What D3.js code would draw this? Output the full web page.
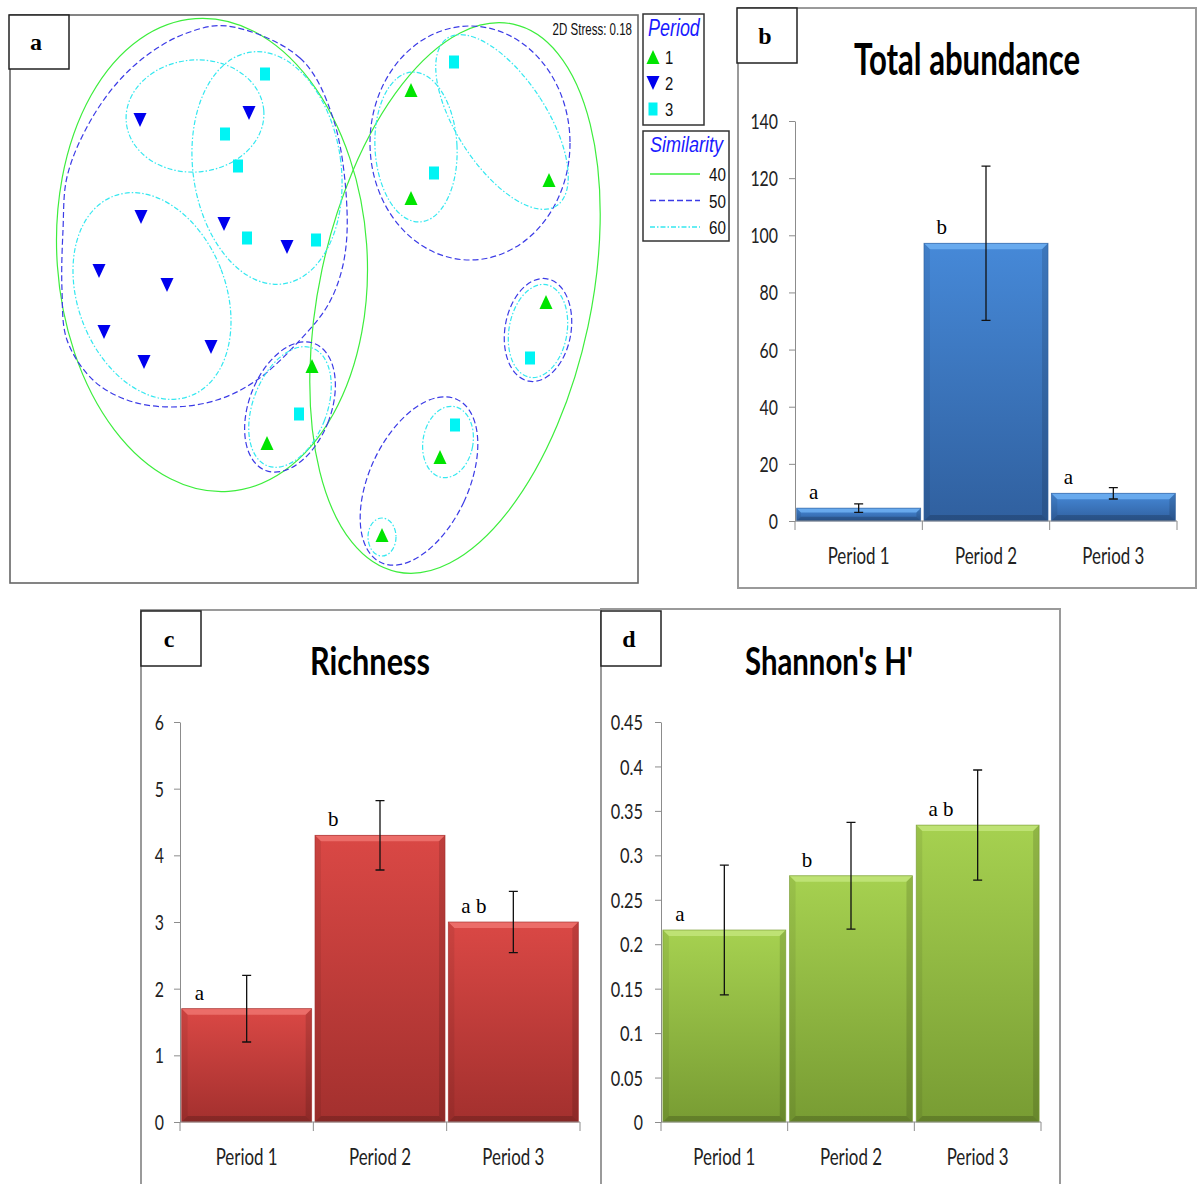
<!DOCTYPE html>
<html><head><meta charset="utf-8">
<script src="https://cdn.jsdelivr.net/npm/d3@7"></script>
<style>body{margin:0;background:#fff}svg{display:block}</style>
</head><body>
<svg id="fig" width="1197" height="1184"></svg>
<script>
// ================= DATA =================
const periods = ["Period 1", "Period 2", "Period 3"];

const abundanceMean = [4.5, 97.2, 9.7];
const abundanceErr = [1.5, 27.0, 2.0];
const abundanceLetters = ["a", "b", "a"];
const abundanceTicks = [0, 20, 40, 60, 80, 100, 120, 140];
const abundanceTickLabels = ["0", "20", "40", "60", "80", "100", "120", "140"];

const richnessMean = [1.7, 4.3, 3.0];
const richnessErr = [0.5, 0.52, 0.46];
const richnessLetters = ["a", "b", "a b"];
const richnessTicks = [0, 1, 2, 3, 4, 5, 6];
const richnessTickLabels = ["0", "1", "2", "3", "4", "5", "6"];

const shannonMean = [0.216, 0.277, 0.334];
const shannonErr = [0.073, 0.060, 0.062];
const shannonLetters = ["a", "b", "a b"];
const shannonTicks = [0, 0.05, 0.1, 0.15, 0.2, 0.25, 0.3, 0.35, 0.4, 0.45];
const shannonTickLabels = ["0", "0.05", "0.1", "0.15", "0.2", "0.25", "0.3", "0.35", "0.4", "0.45"];

// NMDS ordination (MDS1, MDS2)
const mdsPeriod1 = [[0.435, 1.045], [0.435, 0.505], [1.125, 0.595], [-0.06, -0.335], [-0.285, -0.72], [1.11, -0.015], [0.58, -0.79], [0.29, -1.18]];
const mdsPeriod2 = [[-0.92, 0.895], [-0.375, 0.93], [-0.915, 0.41], [-0.5, 0.375], [-0.185, 0.26], [-1.125, 0.14], [-0.785, 0.07], [-1.1, -0.165], [-0.9, -0.315], [-0.565, -0.24]];
const mdsPeriod3 = [[-0.295, 1.125], [-0.495, 0.825], [-0.43, 0.665], [-0.385, 0.305], [-0.04, 0.295], [-0.125, -0.575], [0.65, 1.185], [0.55, 0.63], [1.03, -0.295], [0.655, -0.63]];
const periodNames = ["1", "2", "3"];
const similarityLevels = ["40", "50", "60"];
const stressValue = 0.18;

// cluster contours: [cx, cy, rx, ry, rotation]
const contours40 = [[-0.56, 0.22, 0.775, 1.185, -4], [0.655, 0.005, 0.68, 1.40, 12]];
const contours50 = [[-0.17, -0.54, 0.205, 0.34, 21], [0.73, 0.78, 0.50, 0.585, 0], [1.07, -0.155, 0.165, 0.26, 10], [0.475, -0.91, 0.2475, 0.45, 25]];
const contour50Outline = [[-0.485, 1.365], [-0.12, 1.205], [0.045, 0.905], [0.115, 0.445], [0.095, 0.17], [0.02, -0.03], [-0.12, -0.205], [-0.335, -0.405], [-0.535, -0.505], [-0.77, -0.54], [-0.985, -0.505], [-1.155, -0.405], [-1.285, -0.205], [-1.31, 0.045], [-1.305, 0.345], [-1.285, 0.61], [-1.185, 0.86], [-1.035, 1.08], [-0.87, 1.23], [-0.685, 1.33]];
const contours60 = [[-0.645, 0.915, 0.345, 0.28, -5], [-0.285, 0.655, 0.37, 0.585, -8], [-0.86, 0.015, 0.37, 0.535, -21], [-0.17, -0.54, 0.185, 0.315, 21], [0.46, 0.76, 0.205, 0.375, -3], [0.89, 0.885, 0.225, 0.50, -33], [1.07, -0.16, 0.145, 0.235, 10], [0.62, -0.715, 0.125, 0.18, 10], [0.29, -1.19, 0.07, 0.095, 0]];

// ================= DRAWING =================
const svg = d3.select("#fig");
const defs = svg.append("defs");
const SANS = "'Liberation Sans', Arial, sans-serif";
const CAL = "Lato, 'Open Sans', sans-serif";
const SERIF = "'Liberation Serif', 'Times New Roman', serif";

function charW(s, dw) { let w = 0; for (const c of s) w += (c === ".") ? dw * 0.5 : dw; return w; }
// horizontally condensed text via transform
function sText(g, x, y, str, sx, size, anchor) {
  return g.append("text").attr("transform", `translate(${x},${y}) scale(${sx},1)`)
    .attr("text-anchor", anchor || "start").attr("font-family", SANS).attr("font-size", size).text(str);
}

// ---------- Panel a : NMDS ----------
const pa = svg.append("g");
const ax = d3.scaleLinear().domain([-1.57, 1.57]).range([10, 638]);
const ay = d3.scaleLinear().domain([-1.42, 1.42]).range([583, 15]);
pa.append("rect").attr("x", 10).attr("y", 15).attr("width", 628).attr("height", 568)
  .attr("fill", "#fff").attr("stroke", "#666").attr("stroke-width", 1.6);

const lvlStyle = {
  "40": { stroke: "#3ded3d", dash: null, w: 1.2 },
  "50": { stroke: "#3b3be6", dash: "6,3", w: 1.2 },
  "60": { stroke: "#35e8f0", dash: "5,2,1.5,2", w: 1.2 }
};
function drawEllipses(list, lvl) {
  const st = lvlStyle[lvl];
  pa.selectAll(null).data(list).enter().append("ellipse")
    .attr("cx", d => ax(d[0])).attr("cy", d => ay(d[1]))
    .attr("rx", d => ax(d[0] + d[2]) - ax(d[0]))
    .attr("ry", d => ay(d[1]) - ay(d[1] + d[3]))
    .attr("transform", d => `rotate(${d[4]},${ax(d[0])},${ay(d[1])})`)
    .attr("fill", "none").attr("stroke", st.stroke).attr("stroke-width", st.w)
    .attr("stroke-dasharray", st.dash);
}
drawEllipses(contours40, "40");
drawEllipses(contours50, "50");
pa.append("path")
  .attr("d", d3.line().x(d => ax(d[0])).y(d => ay(d[1])).curve(d3.curveCatmullRomClosed)(contour50Outline))
  .attr("fill", "none").attr("stroke", lvlStyle["50"].stroke).attr("stroke-width", 1.2)
  .attr("stroke-dasharray", lvlStyle["50"].dash);
drawEllipses(contours60, "60");

const GREEN = "#00e400", BLUE = "#0000ee", CYAN = "#00f4f4";
function upTri(x, y) { return `M${x},${y - 7}L${x + 6.5},${y + 7}L${x - 6.5},${y + 7}Z`; }
function downTri(x, y) { return `M${x - 6.5},${y - 7}L${x + 6.5},${y - 7}L${x},${y + 7}Z`; }
pa.selectAll(null).data(mdsPeriod1).enter().append("path")
  .attr("d", d => upTri(ax(d[0]), ay(d[1]))).attr("fill", GREEN);
pa.selectAll(null).data(mdsPeriod2).enter().append("path")
  .attr("d", d => downTri(ax(d[0]), ay(d[1]))).attr("fill", BLUE);
pa.selectAll(null).data(mdsPeriod3).enter().append("rect")
  .attr("x", d => ax(d[0]) - 5).attr("y", d => ay(d[1]) - 6.5)
  .attr("width", 10).attr("height", 13).attr("fill", CYAN);

sText(pa, 632, 35, "2D Stress: " + stressValue.toFixed(2), 0.72, 16, "end").attr("fill", "#111");

// label box a
pa.append("rect").attr("x", 9).attr("y", 15).attr("width", 60).attr("height", 54)
  .attr("fill", "#fff").attr("stroke", "#222").attr("stroke-width", 1.5);
pa.append("text").attr("x", 36).attr("y", 50).attr("text-anchor", "middle")
  .attr("font-family", SERIF).attr("font-weight", "bold").attr("font-size", 24).text("a");

// legends
const lg = svg.append("g");
lg.append("rect").attr("x", 643).attr("y", 14).attr("width", 61).attr("height", 111)
  .attr("fill", "#fff").attr("stroke", "#333").attr("stroke-width", 1.5);
sText(lg, 648, 36, "Period", 0.78, 23).attr("font-style", "italic").attr("fill", "#1a1aff");
const symFns = [
  (g, x, y) => g.append("path").attr("d", upTri(x, y)).attr("fill", GREEN),
  (g, x, y) => g.append("path").attr("d", downTri(x, y)).attr("fill", BLUE),
  (g, x, y) => g.append("rect").attr("x", x - 4.5).attr("y", y - 6.5).attr("width", 9).attr("height", 13).attr("fill", CYAN)
];
periodNames.forEach((p, i) => {
  const yy = 57 + i * 26;
  symFns[i](lg, 653, yy);
  sText(lg, 665, yy + 7, p, 0.78, 19).attr("fill", "#111");
});
lg.append("rect").attr("x", 643).attr("y", 131).attr("width", 86).attr("height", 110)
  .attr("fill", "#fff").attr("stroke", "#333").attr("stroke-width", 1.5);
sText(lg, 650, 152, "Similarity", 0.82, 22).attr("font-style", "italic").attr("fill", "#1a1aff");
similarityLevels.forEach((l, i) => {
  const yy = 174 + i * 26.5;
  const st = lvlStyle[l];
  lg.append("line").attr("x1", 650).attr("x2", 700).attr("y1", yy).attr("y2", yy)
    .attr("stroke", st.stroke).attr("stroke-width", 1.3).attr("stroke-dasharray", st.dash);
  sText(lg, 726, yy + 7, l, 0.8, 19, "end").attr("fill", "#111");
});

// ---------- Bar panels ----------
function barPanel(c) {
  const g = svg.append("g");
  g.append("rect").attr("x", c.box[0]).attr("y", c.box[1]).attr("width", c.box[2]).attr("height", c.box[3])
    .attr("fill", "#fff").attr("stroke", "#9a9a9a").attr("stroke-width", 2);
  // gradient
  const gid = "grad_" + c.label;
  const lgd = defs.append("linearGradient").attr("id", gid).attr("x1", 0).attr("y1", 0).attr("x2", 0).attr("y2", 1);
  lgd.append("stop").attr("offset", "0%").attr("stop-color", c.colors[0]);
  lgd.append("stop").attr("offset", "100%").attr("stop-color", c.colors[1]);

  const y = d3.scaleLinear().domain([0, c.max]).range([c.yBottom, c.yTop]);
  const x = d3.scaleBand().domain(periods).range([c.axisX, c.xEnd]).paddingInner(c.padIn).paddingOuter(c.padIn / 2);

  // bars
  const bars = g.selectAll(null).data(periods).enter().append("g");
  bars.each(function (p, i) {
    const b = d3.select(this);
    const x0 = x(p), w = x.bandwidth(), y0 = y(c.means[i]), h = y(0) - y(c.means[i]);
    const bv = Math.min(6, h / 3);
    b.append("rect").attr("x", x0).attr("y", y0).attr("width", w).attr("height", h).attr("fill", `url(#${gid})`);
    b.append("path").attr("d", `M${x0},${y0}L${x0 + w},${y0}L${x0 + w - bv},${y0 + bv}L${x0 + bv},${y0 + bv}Z`)
      .attr("fill", c.colors[2]).attr("opacity", 0.85);
    b.append("path").attr("d", `M${x0},${y0 + h}L${x0 + w},${y0 + h}L${x0 + w - bv},${y0 + h - bv}L${x0 + bv},${y0 + h - bv}Z`)
      .attr("fill", "#000").attr("opacity", 0.18);
    b.append("path").attr("d", `M${x0},${y0}L${x0 + bv},${y0 + bv}L${x0 + bv},${y0 + h - bv}L${x0},${y0 + h}Z`)
      .attr("fill", "#000").attr("opacity", 0.07);
    b.append("path").attr("d", `M${x0 + w},${y0}L${x0 + w - bv},${y0 + bv}L${x0 + w - bv},${y0 + h - bv}L${x0 + w},${y0 + h}Z`)
      .attr("fill", "#000").attr("opacity", 0.13);
    b.append("rect").attr("x", x0).attr("y", y0).attr("width", w).attr("height", h)
      .attr("fill", "none").attr("stroke", c.colors[1]).attr("stroke-width", 0.8).attr("opacity", 0.8);
    // error bar
    const cx = x0 + w / 2, yt = y(c.means[i] + c.errs[i]), yb = y(c.means[i] - c.errs[i]);
    b.append("path").attr("d", `M${cx},${yt}V${yb}M${cx - 4.5},${yt}H${cx + 4.5}M${cx - 4.5},${yb}H${cx + 4.5}`)
      .attr("stroke", "#111").attr("stroke-width", 1.3).attr("fill", "none");
    // letter
    b.append("text").attr("x", x0 + w * 0.1).attr("y", y0 - 9)
      .attr("font-family", SERIF).attr("font-size", 21).attr("fill", "#000").text(c.letters[i]);
  });

  // y axis
  const yAxis = g.append("g").attr("transform", `translate(${c.axisX},0)`)
    .call(d3.axisLeft(y).tickValues(c.ticks).tickSize(6).tickSizeOuter(0).tickPadding(c.tickPad)
      .tickFormat((d, i) => c.tickLabels[i]));
  yAxis.select(".domain").attr("stroke", "#8c8c8c");
  yAxis.selectAll(".tick line").attr("stroke", "#8c8c8c");
  yAxis.selectAll(".tick text").attr("font-family", CAL).attr("font-size", 21).attr("fill", "#222")
    .attr("dy", "0.36em")
    .attr("textLength", function () { return charW(this.textContent, 9.2); })
    .attr("lengthAdjust", "spacingAndGlyphs");

  // x axis
  g.append("line").attr("x1", c.axisX).attr("x2", c.xEnd).attr("y1", y(0)).attr("y2", y(0)).attr("stroke", "#8c8c8c");
  const bounds = periods.map(p => x(p) - x.step() * x.paddingInner() / 2).concat([c.xEnd]);
  bounds[0] = c.axisX;
  g.selectAll(null).data(bounds).enter().append("line")
    .attr("x1", d => d).attr("x2", d => d).attr("y1", y(0)).attr("y2", y(0) + 9).attr("stroke", "#8c8c8c");
  g.selectAll(null).data(periods).enter().append("text")
    .attr("x", d => x(d) + x.bandwidth() / 2).attr("y", y(0) + 43).attr("text-anchor", "middle")
    .attr("font-family", CAL).attr("font-size", 23).attr("fill", "#222")
    .attr("textLength", 62).attr("lengthAdjust", "spacingAndGlyphs").text(d => d);

  // title
  g.append("text").attr("x", c.titleX).attr("y", c.titleY).attr("text-anchor", "middle")
    .attr("font-family", CAL).attr("font-weight", "bold").attr("font-size", c.titleSize).attr("fill", "#000")
    .attr("textLength", c.titleW).attr("lengthAdjust", "spacingAndGlyphs").text(c.title);

  // label box
  g.append("rect").attr("x", c.lbox[0]).attr("y", c.lbox[1]).attr("width", 60).attr("height", 55)
    .attr("fill", "#fff").attr("stroke", "#222").attr("stroke-width", 1.5);
  g.append("text").attr("x", c.lbox[0] + 28).attr("y", c.lbox[1] + 36).attr("text-anchor", "middle")
    .attr("font-family", SERIF).attr("font-weight", "bold").attr("font-size", 24).text(c.label);
}

barPanel({
  label: "b", box: [738, 8, 458, 580], lbox: [737, 8],
  title: "Total abundance", titleX: 967, titleY: 75, titleW: 226, titleSize: 44,
  axisX: 795, xEnd: 1177, yTop: 121, yBottom: 521, max: 140, padIn: 0.026, tickPad: 11,
  ticks: abundanceTicks, tickLabels: abundanceTickLabels,
  means: abundanceMean, errs: abundanceErr, letters: abundanceLetters,
  colors: ["#4689d8", "#30609f", "#6fb0f2"]
});
barPanel({
  label: "c", box: [141, 610, 460, 590], lbox: [141, 611],
  title: "Richness", titleX: 370, titleY: 675, titleW: 120, titleSize: 37.5,
  axisX: 180, xEnd: 580, yTop: 722, yBottom: 1122, max: 6, padIn: 0.025, tickPad: 10,
  ticks: richnessTicks, tickLabels: richnessTickLabels,
  means: richnessMean, errs: richnessErr, letters: richnessLetters,
  colors: ["#da4845", "#a3302e", "#ee7470"]
});
barPanel({
  label: "d", box: [601, 609, 459, 590], lbox: [601, 611],
  title: "Shannon's H'", titleX: 829, titleY: 675, titleW: 168, titleSize: 37.5,
  axisX: 661, xEnd: 1041, yTop: 722, yBottom: 1122, max: 0.45, padIn: 0.03, tickPad: 12,
  ticks: shannonTicks, tickLabels: shannonTickLabels,
  means: shannonMean, errs: shannonErr, letters: shannonLetters,
  colors: ["#a6d150", "#789c33", "#c2e57a"]
});
</script>
</body></html>
